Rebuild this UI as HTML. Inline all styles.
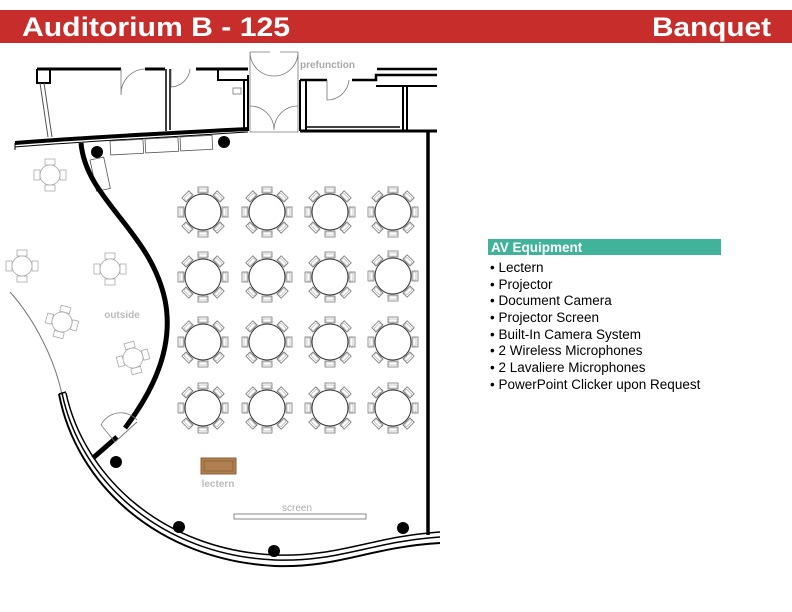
<!DOCTYPE html>
<html><head><meta charset="utf-8"><style>
html,body{margin:0;padding:0;background:#fff}
svg{display:block}
</style></head><body>
<svg width="792" height="612" viewBox="0 0 792 612" xmlns="http://www.w3.org/2000/svg" font-family="Liberation Sans, sans-serif">
<defs>
<g id="ch"><rect x="-5" y="-25" width="10" height="6" fill="#fff" stroke="#666" stroke-width="0.7"/><rect x="-4" y="-23" width="8" height="3" fill="none" stroke="#999" stroke-width="0.5"/></g>
<g id="t">
<use href="#ch"/><use href="#ch" transform="rotate(45)"/><use href="#ch" transform="rotate(90)"/><use href="#ch" transform="rotate(135)"/><use href="#ch" transform="rotate(180)"/><use href="#ch" transform="rotate(225)"/><use href="#ch" transform="rotate(270)"/><use href="#ch" transform="rotate(315)"/>
<circle r="18" fill="#fff" stroke="#333" stroke-width="1"/>
</g>
<g id="c4" stroke="#aaa" stroke-width="0.8" fill="#fff">
<rect x="-5" y="-16" width="10" height="6"/><rect x="-5" y="10" width="10" height="6"/><rect x="-16" y="-5" width="6" height="10"/><rect x="10" y="-5" width="6" height="10"/>
<circle r="10"/>
</g>
</defs>
<rect x="0" y="10" width="792" height="33" fill="#c62d2b"/>
<text x="22" y="36" font-size="27" font-weight="bold" fill="#fff" textLength="268" lengthAdjust="spacingAndGlyphs">Auditorium B - 125</text>
<text x="771" y="36" font-size="27" font-weight="bold" fill="#fff" text-anchor="end" textLength="119" lengthAdjust="spacingAndGlyphs">Banquet</text>

<!-- top rooms -->
<g fill="none" stroke="#000">
<path d="M37,69 H121 M145,69 H165 M196,69 H248" stroke-width="3"/>
<path d="M37,69 V83 H50 V69" stroke-width="2"/>
<path d="M166,69 V131 M170,69 V130" stroke-width="1.5"/>
<path d="M218,69 V80 H248 M248,75 V131 M244,80 V131" stroke-width="2"/>
<path d="M40,83 L48,137 M44,83 L52,137" stroke="#555" stroke-width="1"/>
<path d="M15,143 C90,137 170,133 248,129" stroke-width="4"/>
<path d="M15,147 C90,141 170,137 248,132" stroke-width="1"/>
<path d="M15,143 L15,150" stroke-width="1"/>
<path d="M300,80 V131 M306,80 V131" stroke-width="2"/>
<path d="M300,80 H327 M352,80 H376 V75 H437 M377,69 H437" stroke-width="2.5"/>
<path d="M403,86 V130 M407,86 V130 M376,86 H437" stroke-width="2"/>
<path d="M300,131 H437" stroke-width="3"/>
<path d="M306,127 H400" stroke-width="1.5"/>
<path d="M428,130 V535" stroke-width="3.5"/>
</g>
<g fill="none" stroke="#777" stroke-width="0.8">
<path d="M121,69 V95 A25,25 0 0 1 145,69 M171,69 V87 A20,20 0 0 0 190,69"/>
<path d="M250,52 V132 H298 V52 M250,52 H270 M280,52 H298 M250,52 A24,24 0 0 0 274,76 A24,24 0 0 0 298,52 M250,106 A24,24 0 0 1 274,130 A24,24 0 0 1 298,106"/>
<path d="M327,80 V100 A22,22 0 0 0 349,80"/>
<rect x="233" y="88" width="8" height="6"/>
</g>
<text x="300" y="68" font-size="10" font-weight="bold" fill="#aaa">prefunction</text>

<!-- benches -->
<g fill="#fff" stroke="#555" stroke-width="0.8">
<rect x="110" y="141" width="33" height="14" transform="rotate(-3 110 141)"/>
<rect x="145" y="139" width="33" height="14" transform="rotate(-3 145 139)"/>
<rect x="180" y="137" width="32" height="14" transform="rotate(-3 180 137)"/>
<rect x="90" y="160" width="14" height="32" transform="rotate(-12 90 160)"/>
</g>

<!-- curved thick wall -->
<path d="M81,143 C86,200 150,230 165,300 C175,350 150,395 125,428" fill="none" stroke="#000" stroke-width="5"/>
<path d="M117,437 L93,458" stroke="#000" stroke-width="5"/>
<path d="M137,422 L115,442" stroke="#777" stroke-width="1"/>
<path d="M115,442 L101,425 A22,22 0 0 1 137,420" fill="none" stroke="#777" stroke-width="0.8"/>
<path d="M10,292 C35,320 55,360 62,395" fill="none" stroke="#777" stroke-width="1"/>
<!-- outer curved wall -->
<g fill="none" stroke="#000">
<path d="M62,393 C80,480 160,555 275,560 C340,562 370,542 440,537" stroke-width="1.5"/>
<path d="M66,393 C84,476 162,550 275,555 C340,557 370,537 440,532" stroke-width="1.5"/>
<path d="M59,394 C76,484 158,560 275,566 C340,568 370,547 440,543" stroke-width="2"/>
<path d="M59,394 L66,392" stroke-width="1.5"/>
</g>

<!-- columns -->
<g fill="#000">
<circle cx="97" cy="152" r="6"/><circle cx="224" cy="142" r="6"/><circle cx="116" cy="462" r="6"/><circle cx="179" cy="527" r="6"/><circle cx="274" cy="551" r="6"/><circle cx="403" cy="528" r="6"/>
</g>

<!-- outside tables -->
<use href="#c4" x="50" y="175"/><use href="#c4" x="22" y="266"/><use href="#c4" x="110" y="269"/>
<use href="#c4" x="62" y="322" transform="rotate(15 62 322)"/><use href="#c4" x="133" y="358" transform="rotate(-15 133 358)"/>
<text x="122" y="318" font-size="10" font-weight="bold" fill="#bbb" text-anchor="middle">outside</text>

<!-- banquet tables -->
<g>
<use href="#t" x="203" y="212"/><use href="#t" x="267" y="212"/><use href="#t" x="330" y="212"/><use href="#t" x="393" y="212"/>
<use href="#t" x="203" y="277"/><use href="#t" x="267" y="277"/><use href="#t" x="330" y="277"/><use href="#t" x="393" y="276"/>
<use href="#t" x="203" y="342"/><use href="#t" x="267" y="342"/><use href="#t" x="330" y="342"/><use href="#t" x="393" y="342"/>
<use href="#t" x="203" y="408"/><use href="#t" x="267" y="408"/><use href="#t" x="330" y="408"/><use href="#t" x="393" y="408"/>
</g>

<!-- lectern & screen -->
<rect x="201" y="458" width="35" height="16" fill="#b07f50" stroke="#8a6038" stroke-width="1"/>
<rect x="204" y="461" width="29" height="10" fill="none" stroke="#7a5530" stroke-width="0.6"/>
<text x="218" y="487" font-size="10" font-weight="bold" fill="#bbb" text-anchor="middle">lectern</text>
<rect x="234" y="514" width="132" height="5" fill="#fff" stroke="#888" stroke-width="1"/>
<text x="297" y="511" font-size="10" fill="#aaa" text-anchor="middle">screen</text>

<!-- AV equipment -->
<rect x="488" y="239" width="233" height="16" fill="#40b39a"/>
<text x="491" y="252" font-size="13.5" font-weight="bold" fill="#fff">AV Equipment</text>
<g font-size="13.5" fill="#000">
<text x="490" y="272">• Lectern</text>
<text x="490" y="289">• Projector</text>
<text x="490" y="305">• Document Camera</text>
<text x="490" y="322">• Projector Screen</text>
<text x="490" y="339">• Built-In Camera System</text>
<text x="490" y="355">• 2 Wireless Microphones</text>
<text x="490" y="372">• 2 Lavaliere Microphones</text>
<text x="490" y="389">• PowerPoint Clicker upon Request</text>
</g>
</svg>
</body></html>
